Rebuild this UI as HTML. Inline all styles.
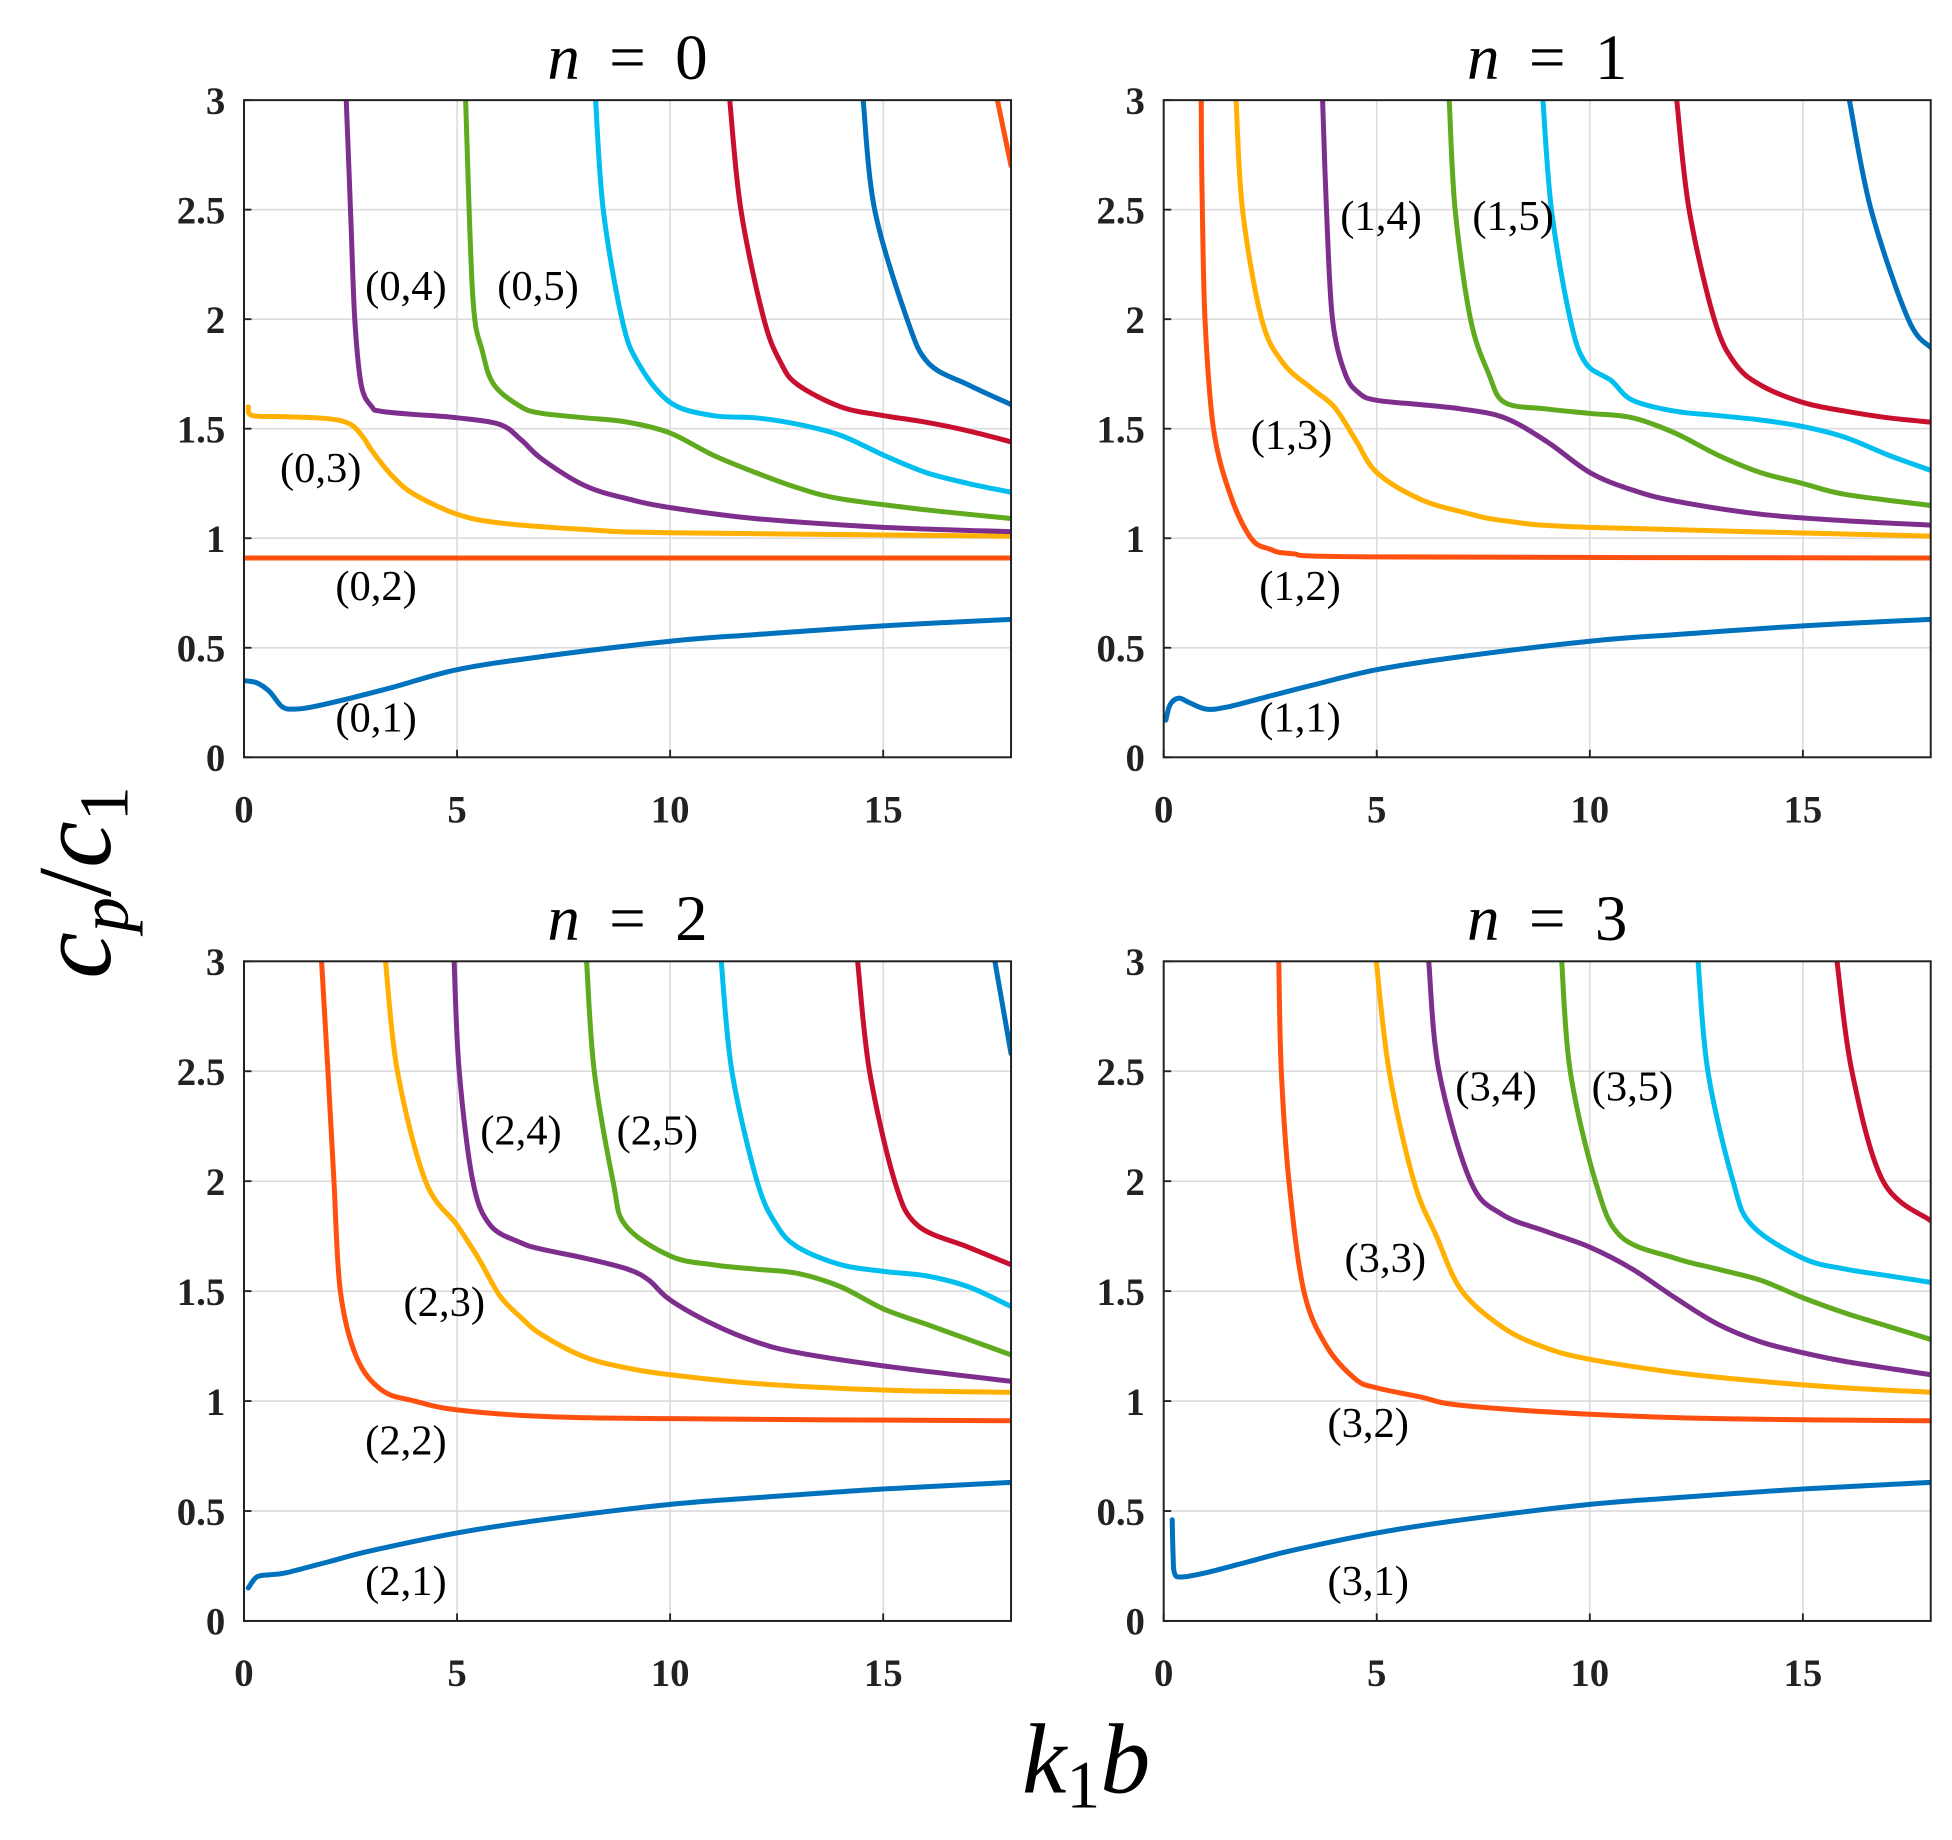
<!DOCTYPE html>
<html><head><meta charset="utf-8"><style>
html,body{margin:0;padding:0;background:#fff;}
svg{display:block;}
.tk{font-family:"Liberation Serif",serif;font-weight:bold;font-size:31px;fill:#222;}
.lb{font-family:"Liberation Serif",serif;font-size:34px;fill:#000;}
.tt{font-family:"Liberation Serif",serif;font-size:52px;fill:#000;}
</style></head><body>
<svg id="fig" width="1952" height="1840" viewBox="0 0 1560 1470" preserveAspectRatio="none" xmlns="http://www.w3.org/2000/svg">
<rect width="1560" height="1470" fill="#fff"/>
<text transform="translate(88,705) rotate(-90)" text-anchor="middle" font-family="Liberation Serif,serif" font-style="italic" font-size="84">c<tspan font-size="56" dy="14">p</tspan><tspan dy="-14" font-style="normal">/</tspan>c<tspan font-size="56" dy="14" font-style="normal">1</tspan></text>
<text x="868" y="1432" text-anchor="middle" font-family="Liberation Serif,serif" font-style="italic" font-size="80">k<tspan font-size="54" dy="12" font-style="normal">1</tspan><tspan dy="-12">b</tspan></text>
</svg>
<script>
const xTicks = [0,5,10,15];
const yTicks = [0,0.5,1,1.5,2,2.5,3];
const yTickLabels = ["0","0.5","1","1.5","2","2.5","3"];
const colors = ["#0072BD","#FF5010","#FFB000","#7E2F8E","#5FAA1E","#00BFEF","#C8102E","#0072BD","#FF5010"];
const titles = ["0","1","2","3"];

const n0_x = [
 [0,0.3,0.6,0.9,1.2,1.6,2.5,3.5,5,7,10,12,15,18],
 [0,18],
 [0.1,0.2,1,2,2.5,2.8,3,3.5,4,5,6,8,10,18],
 [2.4,2.5,2.6,2.75,3.0,3.2,4,5,6,6.5,7,8,9,10,12,15,18],
 [5.2,5.37,5.6,5.87,6.5,7,8,9,10,11,12,13,14,16,18],
 [8.25,8.43,8.87,9.25,10,11,12,13,14,15,16,17,18],
 [11.4,11.66,12.2,12.6,13,14,15,16,17,18],
 [14.53,14.8,15.56,16.06,17,18],
 [17.68,18]];
const n0_y = [
 [0.35,0.34,0.3,0.23,0.22,0.23,0.27,0.32,0.4,0.46,0.53,0.56,0.6,0.63],
 [0.91,0.91],
 [1.6,1.56,1.555,1.545,1.52,1.46,1.4,1.28,1.2,1.11,1.07,1.04,1.025,1.01],
 [3,2.5,2,1.7,1.6,1.58,1.565,1.55,1.52,1.45,1.36,1.24,1.18,1.14,1.09,1.05,1.03],
 [3,2.1,1.85,1.7,1.6,1.57,1.55,1.53,1.48,1.38,1.3,1.23,1.18,1.13,1.09],
 [3,2.5,2,1.8,1.62,1.56,1.55,1.52,1.47,1.38,1.3,1.25,1.21],
 [3,2.5,2,1.8,1.7,1.6,1.56,1.53,1.49,1.44],
 [3,2.5,2,1.8,1.7,1.61],
 [3,2.7]];

const n1_x = [
 [0.05,0.15,0.35,0.6,1,1.5,2.5,3.5,5,7,10,12,15,18],
 [0.88,0.9,0.97,1.17,1.56,2.05,2.5,3,5,18],
 [1.7,1.85,2.3,2.8,3.5,4,4.5,5,6,7,8,10,18],
 [3.73,3.82,3.96,4.26,4.6,5,6,7,8,9,10,11,12,14,16,18],
 [6.7,6.84,7.2,7.63,8,9,10,11,12,13,14,15,16,18],
 [8.9,9.1,9.54,9.9,10.5,11,12,13,14,15,16,17,18],
 [12.04,12.33,12.92,13.4,14,15,16,17,18],
 [16.09,16.6,17.47,18]];
const n1_y = [
 [0.17,0.24,0.27,0.25,0.22,0.23,0.28,0.33,0.4,0.46,0.53,0.56,0.6,0.63],
 [3,2.6,2,1.5,1.2,1.0,0.95,0.93,0.915,0.91],
 [3,2.5,2,1.8,1.68,1.6,1.45,1.3,1.18,1.12,1.08,1.05,1.01],
 [3,2.5,2,1.75,1.66,1.63,1.61,1.59,1.55,1.44,1.3,1.22,1.17,1.11,1.08,1.06],
 [3,2.5,2,1.75,1.62,1.59,1.57,1.55,1.48,1.38,1.3,1.25,1.2,1.15],
 [3,2.5,2,1.8,1.72,1.63,1.58,1.56,1.54,1.51,1.46,1.38,1.31],
 [3,2.5,2,1.8,1.7,1.62,1.58,1.55,1.53],
 [3,2.5,2,1.87]];

const n2_x = [
 [0.1,0.3,0.6,1,2,3,5,7,10,12,15,18],
 [1.82,1.97,2.11,2.26,2.64,3.23,4,5,7,10,18],
 [3.32,3.6,4.26,5.0,5.5,6,6.5,7,8,9,10,12,15,18],
 [4.93,5.05,5.37,5.78,6.5,7,8,9,9.5,10,11,12,13,15,18],
 [8.04,8.22,8.66,8.95,10,11,12,13,14,15,16,17,18],
 [11.2,11.45,12.04,12.5,13,14,15,16,17,18],
 [14.4,14.68,15.27,15.8,17,18],
 [17.62,18]];
const n2_y = [
 [0.15,0.2,0.21,0.22,0.27,0.32,0.4,0.46,0.53,0.56,0.6,0.63],
 [3,2.5,2,1.5,1.2,1.05,1.0,0.96,0.93,0.92,0.91],
 [3,2.5,2,1.8,1.65,1.48,1.38,1.3,1.2,1.15,1.12,1.08,1.05,1.04],
 [3,2.5,2,1.8,1.72,1.69,1.65,1.6,1.55,1.46,1.35,1.27,1.22,1.16,1.09],
 [3,2.5,2,1.8,1.66,1.62,1.6,1.58,1.52,1.42,1.35,1.28,1.21],
 [3,2.5,2,1.8,1.7,1.62,1.59,1.57,1.52,1.43],
 [3,2.5,2,1.8,1.7,1.62],
 [3,2.58]];

const n3_x = [
 [0.2,0.22,0.25,0.4,1,2,3,5,7,10,12,15,18],
 [2.7,2.76,2.94,3.29,3.82,4.5,5,6,7,10,13,18],
 [4.99,5.29,5.87,6.4,7,8,9,10,12,14,16,18],
 [6.22,6.46,7.2,7.93,9,10,11,12,13,14,15,16,18],
 [9.34,9.54,10.13,10.72,12,13,14,15,16,17,18],
 [12.54,12.77,13.36,13.8,15,16,17,18],
 [15.8,16.15,16.88,18]];
const n3_y = [
 [0.46,0.3,0.22,0.2,0.22,0.27,0.32,0.4,0.46,0.53,0.56,0.6,0.63],
 [3,2.5,2,1.5,1.25,1.1,1.06,1.02,0.98,0.94,0.92,0.91],
 [3,2.5,2,1.75,1.5,1.33,1.24,1.19,1.13,1.09,1.06,1.04],
 [3,2.5,2,1.85,1.77,1.7,1.6,1.47,1.35,1.27,1.22,1.18,1.12],
 [3,2.5,2,1.75,1.65,1.6,1.55,1.47,1.4,1.34,1.28],
 [3,2.5,2,1.8,1.65,1.6,1.57,1.54],
 [3,2.5,2,1.82]];

const labelText = [
 ["(0,4)","(0,5)","(0,3)","(0,2)","(0,1)"],
 ["(1,4)","(1,5)","(1,3)","(1,2)","(1,1)"],
 ["(2,4)","(2,5)","(2,3)","(2,2)","(2,1)"],
 ["(3,4)","(3,5)","(3,3)","(3,2)","(3,1)"]];
const labelX = [[3.8,6.9,1.8,3.1,3.1],[5.1,8.2,3.0,3.2,3.2],[6.5,9.7,4.7,3.8,3.8],[7.8,11.0,5.2,4.8,4.8]];
const labelY = [[2.15,2.15,1.32,0.78,0.18],[2.47,2.47,1.47,0.78,0.18],[2.23,2.23,1.45,0.82,0.18],[2.43,2.43,1.65,0.9,0.18]];

const panels = [
 {L:195,T:80,W:613,H:525,xs:n0_x,ys:n0_y},
 {L:930,T:80,W:613,H:525,xs:n1_x,ys:n1_y},
 {L:195,T:768,W:613,H:527,xs:n2_x,ys:n2_y},
 {L:930,T:768,W:613,H:527,xs:n3_x,ys:n3_y}];

const NS = "http://www.w3.org/2000/svg";
const svg = document.getElementById('fig');
function mk(tag, attrs, parent){const e=document.createElementNS(NS,tag);for(const k in attrs)e.setAttribute(k,attrs[k]);(parent||svg).appendChild(e);return e;}
function smoothPath(P){
  if(P.length<3) return 'M'+P.map(q=>q[0].toFixed(1)+','+q[1].toFixed(1)).join(' L');
  let d='M'+P[0][0].toFixed(1)+','+P[0][1].toFixed(1);
  for(let i=0;i<P.length-1;i++){
    const p0=P[Math.max(0,i-1)],p1=P[i],p2=P[i+1],p3=P[Math.min(P.length-1,i+2)];
    const t=0.5/3;
    const c1=[p1[0]+(p2[0]-p0[0])*t, p1[1]+(p2[1]-p0[1])*t];
    const c2=[p2[0]-(p3[0]-p1[0])*t, p2[1]-(p3[1]-p1[1])*t];
    d+=' C'+c1[0].toFixed(1)+','+c1[1].toFixed(1)+' '+c2[0].toFixed(1)+','+c2[1].toFixed(1)+' '+p2[0].toFixed(1)+','+p2[1].toFixed(1);
  }
  return d;
}

panels.forEach((p,pi)=>{
  const sx = v => p.L + v/18*p.W;
  const sy = v => p.T + p.H - v/3*p.H;
  const g = mk('g',{});
  
  
  const cp = mk('clipPath',{id:'clip'+pi},g);
  mk('rect',{x:p.L,y:p.T,width:p.W,height:p.H},cp);
  xTicks.forEach(t=>{ if(t>0){ const l=mk('line',{x1:sx(t),x2:sx(t),y1:p.T,y2:p.T+p.H,stroke:'#dcdcdc','stroke-width':1.3},g);
      }});
  yTicks.forEach(t=>{ if(t>0&&t<3){ const l=mk('line',{x1:p.L,x2:p.L+p.W,y1:sy(t),y2:sy(t),stroke:'#dcdcdc','stroke-width':1.3},g);
      }});
  const cg = mk('g',{'clip-path':'url(#clip'+pi+')'},g);
  p.xs.forEach((xa,mi)=>{
    const ya = p.ys[mi];
    const P = xa.map((x,i)=>[sx(x),sy(ya[i])]);
    const pl = mk('path',{d:smoothPath(P),fill:'none',stroke:colors[mi],'stroke-width':4,'stroke-linejoin':'round','stroke-linecap':'round'},cg);
    
    
  });
  const bx = mk('rect',{x:p.L,y:p.T,width:p.W,height:p.H,fill:'none',stroke:'#222','stroke-width':1.6},g);
   
  xTicks.forEach(t=>{
    mk('line',{x1:sx(t),x2:sx(t),y1:p.T+p.H,y2:p.T+p.H-6,stroke:'#222','stroke-width':1.5},g);
    const tx = mk('text',{x:sx(t),y:p.T+p.H+52,'text-anchor':'middle',class:'tk'},g);
    tx.textContent = String(t);
     
  });
  yTicks.forEach((t,i)=>{
    mk('line',{x1:p.L,x2:p.L+6,y1:sy(t),y2:sy(t),stroke:'#222','stroke-width':1.5},g);
    const tx = mk('text',{x:p.L-15,y:sy(t)+11,'text-anchor':'end',class:'tk'},g);
    tx.textContent = yTickLabels[i];
     
  });
  const tt = mk('text',{x:p.L+p.W/2,y:p.T-17,'text-anchor':'middle',class:'tt'},g);
   
  const ts1 = mk('tspan',{'font-style':'italic'},tt); ts1.textContent='n';
  const ts2 = mk('tspan',{},tt); ts2.textContent='\u2009 = \u2009'+titles[pi];
  labelText[pi].forEach((s,li)=>{
    const lt = mk('text',{x:sx(labelX[pi][li]),y:sy(labelY[pi][li])+11,'text-anchor':'middle',class:'lb'},g);
    lt.textContent = s;
     
  });
});
</script>
</body></html>
